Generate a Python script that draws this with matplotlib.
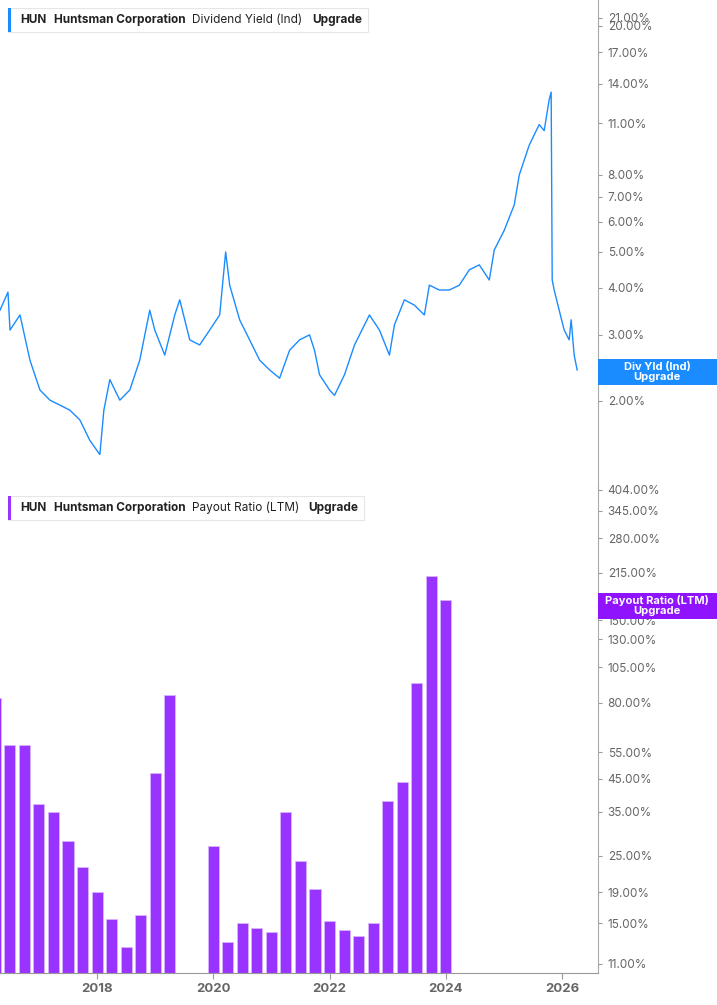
import numpy as np
import matplotlib
matplotlib.use("Agg")
import matplotlib.pyplot as plt
from matplotlib.patches import Rectangle

plt.rcParams['font.family'] = ['Inter', 'DejaVu Sans']

# ---- data ----
# dividend yield (%), dates as decimal years
yld_dates = [2016.330, 2016.467, 2016.502, 2016.674, 2016.845, 2017.017, 2017.189, 2017.361, 2017.533,
             2017.705, 2017.876, 2018.048, 2018.117, 2018.220, 2018.392, 2018.564, 2018.735, 2018.907,
             2018.993, 2019.165, 2019.337, 2019.423, 2019.595, 2019.766, 2019.938, 2020.110, 2020.213,
             2020.282, 2020.454, 2020.625, 2020.797, 2020.969, 2021.141, 2021.313, 2021.485, 2021.656,
             2021.742, 2021.828, 2022.000, 2022.086, 2022.258, 2022.430, 2022.687, 2022.859, 2023.031,
             2023.117, 2023.289, 2023.461, 2023.632, 2023.718, 2023.890, 2024.062, 2024.234, 2024.405,
             2024.577, 2024.749, 2024.835, 2025.007, 2025.179, 2025.265, 2025.436, 2025.608, 2025.694,
             2025.780, 2025.814, 2025.832, 2025.866, 2025.952, 2026.038, 2026.124, 2026.158, 2026.210,
             2026.261]
yld_vals = [3.49, 3.90, 3.09, 3.39, 2.57, 2.14, 2.01, 1.95, 1.89,
            1.78, 1.57, 1.44, 1.89, 2.28, 2.01, 2.14, 2.57, 3.49,
            3.09, 2.65, 3.39, 3.72, 2.91, 2.82, 3.09, 3.39, 4.99,
            4.07, 3.29, 2.91, 2.57, 2.42, 2.30, 2.73, 2.91, 3.00,
            2.73, 2.35, 2.14, 2.07, 2.35, 2.82, 3.39, 3.09, 2.65,
            3.19, 3.72, 3.60, 3.39, 4.07, 3.95, 3.95, 4.07, 4.47,
            4.61, 4.20, 5.05, 5.70, 6.66, 8.00, 9.60, 10.90, 10.50,
            12.70, 13.30, 4.20, 3.95, 3.49, 3.09, 2.91, 3.29, 2.65,
            2.42]

# payout ratio (%), quarterly bars
pay_dates = [2016.25 + 0.25 * i for i in range(32)]
pay_vals = [83, 58, 58, 37, 35, 28, 23, 19, 15.5, 12.5, 16, 47, 85, np.nan, np.nan,
            27, 13, 15, 14.5, 14, 35, 24, 19.5, 15.3, 14.2, 13.6, 15, 38, 44, 93, 210, 175]

yld_ticks = [2, 3, 4, 5, 6, 7, 8, 11, 14, 17, 20, 21]
pay_ticks = [11, 15, 19, 25, 35, 45, 55, 80, 105, 130, 150, 215, 280, 345, 404]
year_ticks = [2018, 2020, 2022, 2024, 2026]

blue = '#1a8cff'
purple = '#9933ff'
grey = '#666666'

fig = plt.figure(figsize=(7.17, 10.05), dpi=100)
W, H = 717, 1005
ax1 = fig.add_axes([0, 1 - 487 / H, 598 / W, 487 / H])
ax2 = fig.add_axes([0, 32 / H, 598 / W, 486 / H])

xlim = (2016.33, 2026.62)

ax1.plot(yld_dates, yld_vals, color=blue, lw=1)
ax1.set_yscale('log')
ax1.set_ylim(1.18, 23.4)

ax2.bar(pay_dates, pay_vals, width=0.19, color=purple, edgecolor='#d9b3ff', linewidth=0.6)
ax2.set_yscale('log')
ax2.set_ylim(10.27, 413)

for ax, ticks in ((ax1, yld_ticks), (ax2, pay_ticks)):
    ax.set_xlim(*xlim)
    ax.yaxis.tick_right()
    ax.set_yticks(ticks)
    ax.set_yticklabels([f'{t:.2f}%' for t in ticks])
    ax.yaxis.set_minor_locator(matplotlib.ticker.NullLocator())
    ax.tick_params(axis='y', length=3, color='#999999', labelsize=8.5, labelcolor=grey, pad=4)
    for s in ('top', 'left'):
        ax.spines[s].set_visible(False)
    ax.spines['right'].set_color('#aaaaaa')
    ax.spines['bottom'].set_color('#dddddd')

ax1.set_xticks([])
ax2.set_xticks(year_ticks)
ax2.set_xticklabels([str(y) for y in year_ticks], fontweight='bold')
ax2.tick_params(axis='x', length=4, color='#999999', labelsize=9.5, labelcolor=grey)
ax2.spines['bottom'].set_color('#999999')

# legend boxes
for y, color, metric, w in ((20, blue, 'Dividend Yield (Ind)', 368), (508, purple, 'Payout Ratio (LTM)', 364)):
    yy = 1 - y / H
    fig.patches.append(Rectangle((8 / W, 1 - (y + 12) / H), (w - 8) / W, 24 / H, transform=fig.transFigure,
                                 fc='white', ec='#e6e6e6', lw=0.8))
    fig.patches.append(Rectangle((8 / W, 1 - (y + 12) / H), 3 / W, 24 / H, transform=fig.transFigure,
                                 fc=color, ec='none'))
    fig.text(20 / W, yy, 'HUN', fontsize=8.5, fontweight='bold', va='center', color='#222222')
    fig.text(54 / W, yy, 'Huntsman Corporation', fontsize=8.5, fontweight='bold', va='center', color='#222222')
    fig.text(192 / W, yy, metric, fontsize=8.5, va='center', color='#222222')
    fig.text((w - 56) / W, yy, 'Upgrade', fontsize=8.5, fontweight='bold', va='center', color='#222222')

# value flags on right axis
for y0, y1, color, label in ((359, 385, blue, 'Div Yld (Ind)\nUpgrade'),
                             (593, 619, '#9013fe', 'Payout Ratio (LTM)\nUpgrade')):
    fig.patches.append(Rectangle((598 / W, 1 - y1 / H), 119 / W, (y1 - y0) / H,
                                 transform=fig.transFigure, fc=color, ec='none', zorder=5))
    fig.text(657 / W, 1 - (y0 + y1) / 2 / H, label, fontsize=8, fontweight='bold', color='white',
             ha='center', va='center', linespacing=1.0, zorder=6)

fig.savefig('out.png', dpi=100, facecolor='white')
